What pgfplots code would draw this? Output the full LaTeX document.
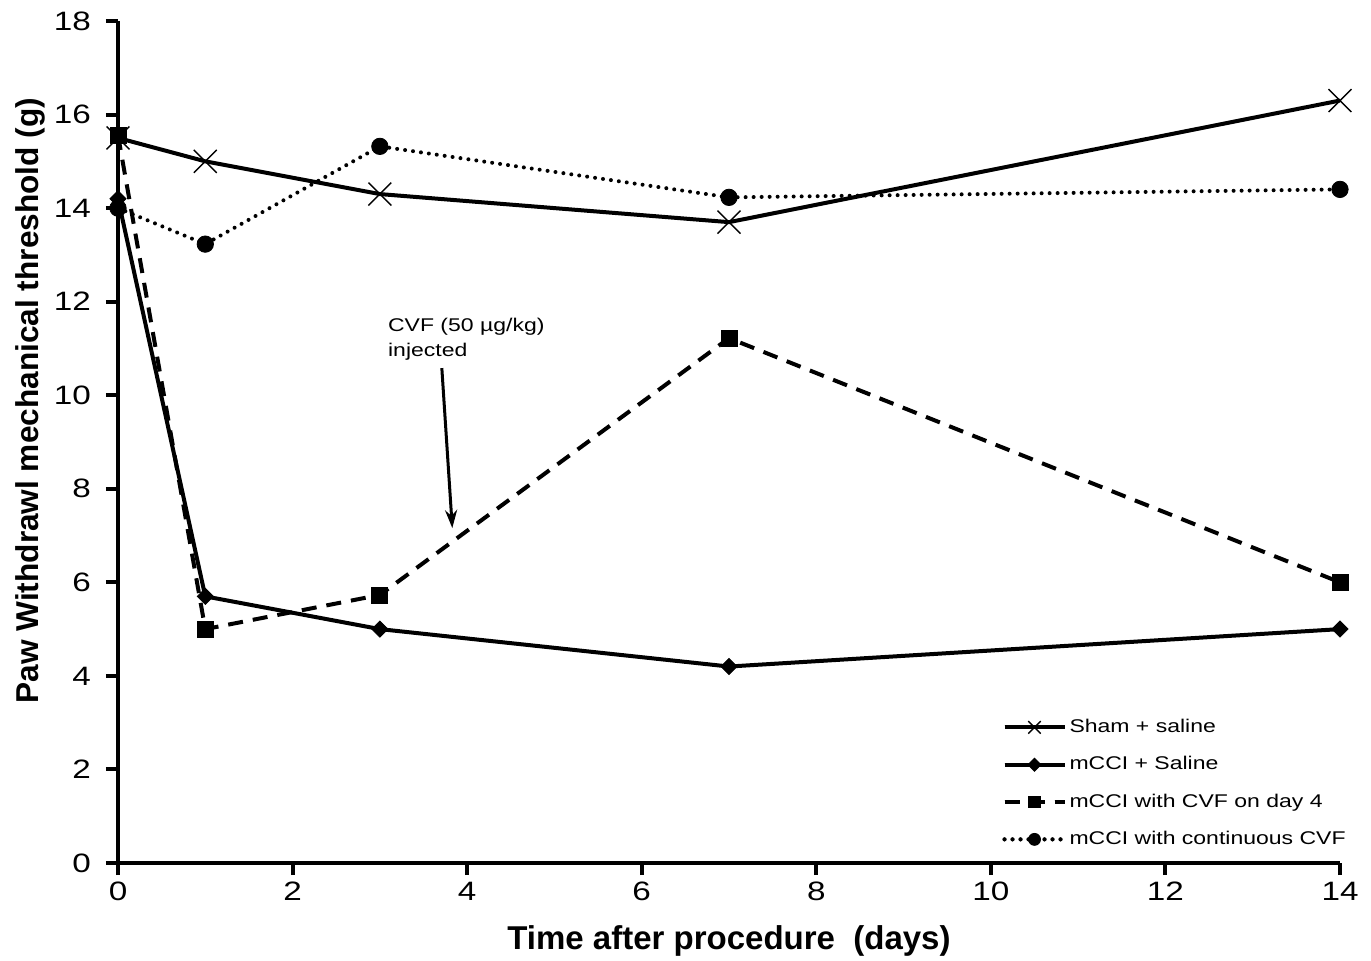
\documentclass[border=0pt]{standalone}
\usepackage{fontspec}
\setmainfont{Liberation Sans}[FakeStretch=1.25]
\newfontfamily\plainsans{Liberation Sans}
\usepackage{pgfplots}
\pgfplotsset{compat=1.18}
\usetikzlibrary{arrows.meta}

\begin{document}
\begin{tikzpicture}
  \begin{axis}[
    scale only axis,
    width=611pt, height=421pt,
    xmin=0, xmax=14, ymin=0, ymax=18,
    axis x line=bottom, axis y line=left,
    axis line style={-, line width=2pt},
    tick align=outside,
    major tick length=6pt,
    every tick/.style={line width=2pt, black},
    xtick={0,2,...,14}, ytick={0,2,...,18},
    /pgf/number format/assume math mode=true,
    tick label style={font=\fontsize{13.3}{15}\selectfont},
    yticklabel style={xshift=-4pt},
    xlabel={Time after procedure\ \ (days)},
    ylabel={Paw Withdrawl mechanical threshold (g)},
    xlabel style={font=\plainsans\fontsize{16.5}{18}\selectfont\bfseries, at={(axis description cs:0.5,-0.093)}, anchor=center},
    ylabel style={font=\plainsans\fontsize{15.8}{17}\selectfont\bfseries, at={(axis description cs:-0.072,0.549)}, anchor=center},
    legend style={draw=none, fill=none, font=\fontsize{9.2}{11}\selectfont,
      at={(rel axis cs:0.7235,0.176)}, anchor=north west,
      row sep=6.5pt, inner sep=0pt, nodes={inner xsep=1.5pt}},
    legend cell align=left,
    legend image code/.code={
      \draw[#1] (0pt,0pt) -- (30pt,0pt);
      \draw[#1, mark repeat=2, mark phase=2] plot coordinates {(0pt,0pt) (15pt,0pt) (30pt,0pt)};
    },
  ]
    \addplot[black, line width=2pt, mark=x, mark size=8.1pt, mark options={line width=0.7pt, solid},
      legend image post style={mark size=4.4pt}]
      coordinates {(0,15.5) (1,15.0) (3,14.3) (7,13.7) (14,16.3)};
    \addlegendentry{Sham + saline}
    \addplot[black, line width=2pt, mark=square*, mark size=2.85pt, mark options={solid, rotate=45, line width=0.4pt},
      legend image post style={mark size=2.3pt}]
      coordinates {(0,14.2) (1,5.7) (3,5.0) (7,4.2) (14,5.0)};
    \addlegendentry{mCCI + Saline}
    \addplot[black, line width=2pt, dash pattern=on 7.5pt off 5pt, mark=square*, mark size=4pt, mark options={solid, line width=0.4pt},
      legend image post style={mark size=2.9pt}]
      coordinates {(0,15.56) (1,5.0) (3,5.73) (7,11.22) (14,6.0)};
    \addlegendentry{mCCI with CVF on day 4}
    \addplot[black, line width=2pt, line cap=round, dash pattern=on 0pt off 4pt, mark=*, mark size=4.1pt, mark options={solid, line width=0.4pt},
      legend image post style={mark size=3pt}]
      coordinates {(0,14.0) (1,13.23) (3,15.32) (7,14.23) (14,14.4)};
    \addlegendentry{mCCI with continuous CVF}

    \node[anchor=west, align=left, inner sep=0pt, font=\fontsize{9.2}{12.5}\selectfont]
      at (axis cs:3.09,11.2) {CVF (50 µg/kg)\\injected};
    \draw[line width=1.5pt, -{Stealth[length=9pt, width=6pt]}] (axis cs:3.71,10.58) -- (axis cs:3.83,7.16);
  \end{axis}
  \pgfresetboundingbox
  \path (-59pt,-48.5pt) rectangle (626.5pt,431.5pt);
\end{tikzpicture}
\end{document}
